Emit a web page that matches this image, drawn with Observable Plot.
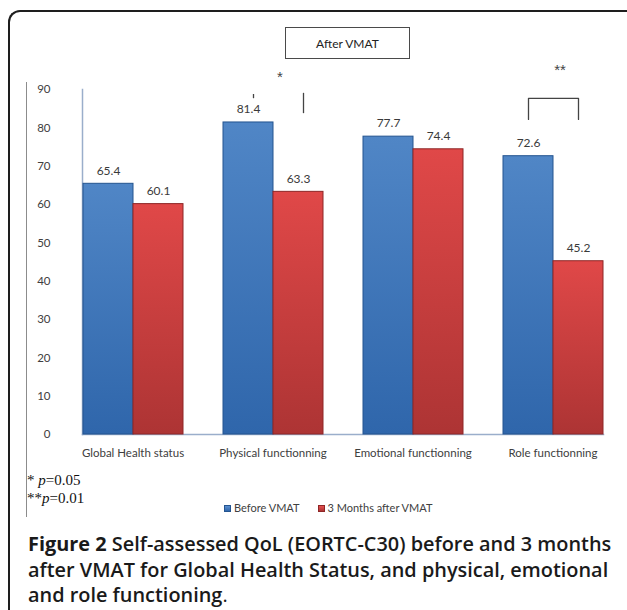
<!DOCTYPE html>
<html>
<head>
<meta charset="utf-8">
<script src="https://cdn.jsdelivr.net/npm/d3@7"></script>
<script src="https://cdn.jsdelivr.net/npm/@observablehq/plot@0.6"></script>
<style>
  html, body { margin: 0; padding: 0; background: #fff; }
  body { width: 627px; height: 610px; overflow: hidden; position: relative; font-family: Lato, sans-serif; }
  #frame { position: absolute; left: 8px; top: 10px; width: 660px; height: 640px; border-left: 2px solid #1e1e1e; border-top: 2px solid #1e1e1e; border-top-left-radius: 12px; box-sizing: border-box; }
  #inner { position: absolute; left: 26px; top: 82px; height: 435px; border-left: 1px solid #8c8c8c; }
  #chart { position: absolute; left: 0; top: 0; }
  #title { position: absolute; left: 285px; top: 27px; width: 125px; height: 32px; border: 1px solid #4a4a4a; box-sizing: border-box; display: flex; align-items: center; justify-content: center; font: 12px Lato, sans-serif; color: #222; }
  #notes { position: absolute; left: 27px; top: 471px; font: 15px "Liberation Serif", serif; line-height: 18px; color: #111; }
  #legend { position: absolute; left: 224px; top: 501px; font: 11px Lato, sans-serif; color: #404040; display: flex; gap: 18px; }
  #legend span.sw { display: inline-block; width: 7px; height: 7px; margin-right: 3px; vertical-align: 0px; }
  #caption { position: absolute; left: 28px; top: 531px; font-family: "Open Sans", sans-serif; font-weight: 600; font-size: 19.9px; line-height: 25.5px; color: #1a1a1a; white-space: nowrap; }
  #caption b { font-weight: 700; }
</style>
</head>
<body>
<div id="frame"></div>
<div id="inner"></div>
<div id="chart"></div>
<div id="title">After VMAT</div>
<div id="notes">* <i>p</i>=0.05<br>**<i>p</i>=0.01</div>
<div id="legend"></div>
<div id="caption"><b>Figure 2</b> Self-assessed QoL (EORTC-C30) before and 3 months<br>after VMAT for Global Health Status, and physical, emotional<br>and role functioning<span style="font-weight:400">.</span></div>
<script>
// ---- data ----
const categories = ["Global Health status", "Physical functionning", "Emotional functionning", "Role functionning"];
const series = ["Before VMAT", "3 Months after VMAT"];
const beforeValues = [65.4, 81.4, 77.7, 72.6];
const afterValues = [60.1, 63.3, 74.4, 45.2];
const yTicks = [0, 10, 20, 30, 40, 50, 60, 70, 80, 90];
const fills = ["url(#gBlue)", "url(#gRed)"];
const strokes = ["#24548f", "#8e2626"];
// significance annotations
const starLabels = [{category: "Physical functionning", text: "*", y: 93.2}, {category: "Role functionning", text: "**", y: 95.1}];
const physTicks = [{series: "Before VMAT", y1: 87.6, y2: 88.7}, {series: "3 Months after VMAT", y1: 83.7, y2: 89.0}];
const roleBracket = [{series: "Before VMAT", y: 82.2}, {series: "Before VMAT", y: 87.7}, {series: "3 Months after VMAT", y: 87.7}, {series: "3 Months after VMAT", y: 82.2}];

const rows = categories.flatMap((c, i) => [
  {category: c, series: series[0], value: beforeValues[i]},
  {category: c, series: series[1], value: afterValues[i]}
]);
const rowsBefore = rows.filter(d => d.series === series[0]);
const rowsAfter = rows.filter(d => d.series === series[1]);

const plot = Plot.plot({
  width: 627,
  height: 475,
  marginLeft: 60,
  marginRight: 17,
  marginTop: 89,
  marginBottom: 41,
  style: {fontFamily: "Lato, sans-serif", fontSize: "11.5px", color: "#404040", background: "transparent", overflow: "visible"},
  fx: {domain: categories, paddingInner: 0.282, paddingOuter: 0.096, align: 0.74, label: null, axis: "bottom", tickSize: 0, tickPadding: 14},
  x: {domain: series, padding: 0, axis: null},
  y: {domain: [0, 90], label: null},
  marks: [
    Plot.axisY(yTicks, {tickSize: 0, tickPadding: 32, label: null, fontSize: 11.5, fill: "#404040"}),
    Plot.frame({facet: "super", anchor: "left", stroke: "#9aaecb", strokeWidth: 1.5}),
    Plot.frame({facet: "super", anchor: "bottom", stroke: "#9aaecb", strokeWidth: 1.5}),
    Plot.barY(rowsBefore, {fx: "category", x: "series", y: "value", fill: fills[0], stroke: strokes[0], strokeWidth: 1}),
    Plot.barY(rowsAfter, {fx: "category", x: "series", y: "value", fill: fills[1], stroke: strokes[1], strokeWidth: 1}),
    Plot.text(rows, {fx: "category", x: "series", y: "value", text: d => d.value.toFixed(1), dy: -13, fontSize: 12, fill: "#3a3a3a"}),
    Plot.text(starLabels, {fx: "category", y: "y", text: "text", dx: 7, fontSize: 15, fontFamily: "Liberation Sans, sans-serif", fill: "#444"}),
    Plot.ruleX(physTicks, {fx: () => "Physical functionning", x: "series", y1: "y1", y2: "y2", dx: 5, stroke: "#444", strokeWidth: 1.3}),
    Plot.line(roleBracket, {fx: () => "Role functionning", x: "series", y: "y", stroke: "#444", strokeWidth: 1.3})
  ]
});

// gradients for the 3-D bar look
const svg = d3.select(plot);
const defs = svg.insert("defs", ":first-child");
function grad(id, top, bottom) {
  const g = defs.append("linearGradient").attr("id", id).attr("x1", 0).attr("y1", 0).attr("x2", 0).attr("y2", 1);
  g.append("stop").attr("offset", "0%").attr("stop-color", top);
  g.append("stop").attr("offset", "100%").attr("stop-color", bottom);
}
grad("gBlue", "#5086c6", "#2f66ab");
grad("gRed", "#e04848", "#ad3434");
document.getElementById("chart").appendChild(plot);

// legend
const legend = d3.select("#legend");
series.forEach((s, i) => {
  const item = legend.append("div");
  item.append("span").attr("class", "sw").style("background", i === 0 ? "linear-gradient(#5a8fd0,#2f66ab)" : "linear-gradient(#e65050,#ad3434)").style("border", "1px solid " + strokes[i]).style("box-sizing", "border-box");
  item.append("span").text(s);
});
</script>
</body>
</html>
